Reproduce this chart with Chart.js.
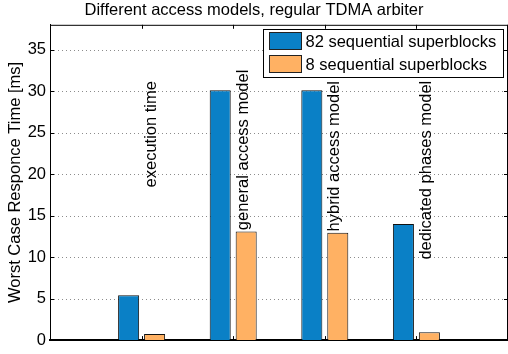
<!DOCTYPE html>
<html><head><meta charset="utf-8">
<script src="https://cdn.jsdelivr.net/npm/chart.js@4"></script>
<style>html,body{margin:0;padding:0;background:#fff}#wrap{width:508px;height:354px}</style>
</head><body><div id="wrap"><canvas id="c" width="508" height="354"></canvas></div>
<script>
const categories = ['execution time', 'general access model', 'hybrid access model', 'dedicated phases model'];
const seriesNames = ['82 sequential superblocks', '8 sequential superblocks'];
const series82 = [5.4, 30.1, 30.1, 14.0];
const series8 = [0.75, 13.1, 12.95, 0.95];
const labelStart = [18.4, 13.25, 13.1, 9.7];
const yTicks = [0, 5, 10, 15, 20, 25, 30, 35];
const categoryPos = [1, 2, 3, 4];
const xTicks = [0, 1, 2, 3, 4, 5];

const FONT = '"Liberation Sans", Arial, Helvetica, sans-serif';
const FS = 16.5;
const colors = ['#0a80c6', '#ffb163'];

const gridPlugin = {
  id: 'dotgrid',
  beforeDatasetsDraw(chart) {
    const { ctx, chartArea: a, scales: { y } } = chart;
    ctx.save();
    ctx.strokeStyle = '#8c8c8c';
    ctx.lineWidth = 1;
    ctx.setLineDash([1, 3]);
    ctx.beginPath();
    yTicks.forEach(v => {
      if (v === 0) return;
      const py = Math.round(y.getPixelForValue(v)) + 0.5;
      ctx.moveTo(a.left, py); ctx.lineTo(a.right, py);
    });
    ctx.stroke();
    ctx.restore();
  }
};

const deco = {
  id: 'deco',
  afterDraw(chart) {
    const { ctx, chartArea: a, scales: { x, y } } = chart;
    ctx.save();
    ctx.strokeStyle = '#000';
    ctx.lineWidth = 1;
    ctx.beginPath();
    ctx.moveTo(a.left, a.top + 0.5); ctx.lineTo(a.right, a.top + 0.5);
    ctx.moveTo(a.right - 0.5, a.top); ctx.lineTo(a.right - 0.5, a.bottom);
    const tl = 4;
    yTicks.forEach(v => {
      const py = Math.round(y.getPixelForValue(v)) + 0.5;
      ctx.moveTo(a.left, py); ctx.lineTo(a.left + tl, py);
      ctx.moveTo(a.right, py); ctx.lineTo(a.right - tl, py);
    });
    categoryPos.forEach(v => {
      const px = Math.round(x.getPixelForValue(v)) + 0.5;
      ctx.moveTo(px, a.top); ctx.lineTo(px, a.top + tl);
      ctx.moveTo(px, a.bottom); ctx.lineTo(px, a.bottom - tl);
    });
    ctx.stroke();

    ctx.fillStyle = '#000';
    ctx.font = FS + 'px ' + FONT;
    categories.forEach((c, i) => {
      const px = x.getPixelForValue(categoryPos[i] + 0.11);
      const py = y.getPixelForValue(labelStart[i]);
      ctx.save();
      ctx.translate(px, py);
      ctx.rotate(-Math.PI / 2);
      ctx.textAlign = 'left';
      ctx.textBaseline = 'middle';
      ctx.fillText(c, 0, 0);
      ctx.restore();
    });

    const lx = 263.5, ly = 29.5, lw = 240, lh = 48;
    ctx.fillStyle = '#fff';
    ctx.fillRect(lx, ly, lw, lh);
    ctx.strokeRect(lx, ly, lw, lh);
    chart.data.datasets.forEach((ds, i) => {
      const sy = ly + 3 + i * 23;
      ctx.fillStyle = ds.backgroundColor;
      ctx.fillRect(lx + 6, sy, 32, 17);
      ctx.strokeStyle = '#222';
      ctx.strokeRect(lx + 6, sy, 32, 17);
      ctx.fillStyle = '#000';
      ctx.textAlign = 'left';
      ctx.textBaseline = 'middle';
      ctx.fillText(ds.label, lx + 42, sy + 9.5);
    });
    ctx.restore();
  }
};

new Chart(document.getElementById('c'), {
  type: 'bar',
  data: {
    datasets: [
      { label: seriesNames[0], data: categoryPos.map((p, i) => ({ x: p, y: series82[i] })), backgroundColor: colors[0], borderColor: '#111', borderWidth: 1 },
      { label: seriesNames[1], data: categoryPos.map((p, i) => ({ x: p, y: series8[i] })), backgroundColor: colors[1], borderColor: '#111', borderWidth: 1 }
    ]
  },
  options: {
    responsive: false,
    animation: false,
    layout: { padding: { left: 0, right: 0, top: 0, bottom: 0 } },
    datasets: { bar: { categoryPercentage: 0.567, barPercentage: 0.81 } },
    plugins: {
      legend: { display: false },
      tooltip: { enabled: false },
      title: {
        display: true,
        text: 'Different access models, regular TDMA arbiter',
        color: '#000',
        font: { family: FONT, size: 16.5, weight: 'normal' },
        padding: { top: 1, bottom: 4 }
      }
    },
    scales: {
      x: {
        type: 'linear', min: 0, max: 5, offset: false,
        afterBuildTicks(s) { s.ticks = xTicks.map(v => ({ value: v })); },
        ticks: { display: false },
        grid: { display: false, drawTicks: false },
        border: { display: true, color: '#000', width: 2 },
        afterFit(s) { s.height = 10; }
      },
      y: {
        min: 0, max: 38,
        afterBuildTicks(s) { s.ticks = yTicks.map(v => ({ value: v })); },
        ticks: { color: '#000', font: { family: FONT, size: FS }, padding: 4 },
        grid: { display: false, drawTicks: false },
        border: { display: true, color: '#000', width: 1 },
        title: { display: true, text: 'Worst Case Responce Time [ms]', color: '#000', font: { family: FONT, size: FS }, padding: { top: 6, bottom: 0 } },
        afterFit(s) { s.width = 50; }
      }
    }
  },
  plugins: [gridPlugin, deco]
});
</script>
</body></html>
